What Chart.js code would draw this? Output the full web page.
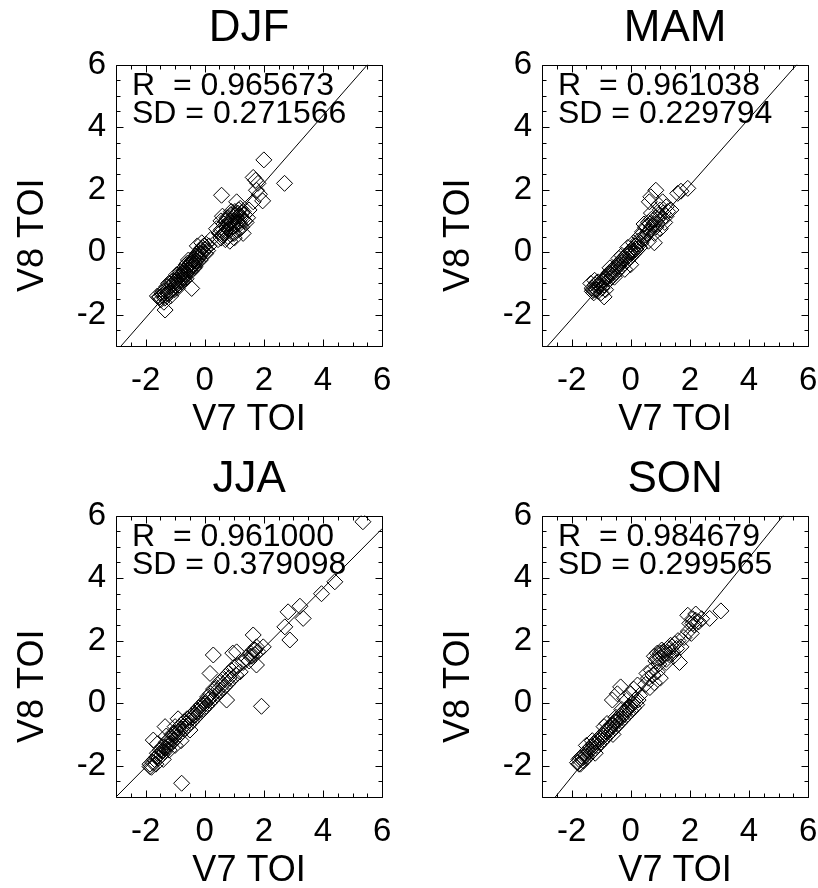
<html>
<head>
<script src="https://cdn.jsdelivr.net/npm/chart.js@4.4.0/dist/chart.umd.min.js"></script>
<style>
    body { margin: 0; background: #fff; overflow: hidden; }
    canvas { position: absolute; }
</style>
</head>
<body>

<canvas id="djfChart" width="406" height="440" style="left:0px;top:0px"></canvas>
<canvas id="mamChart" width="406" height="440" style="left:426px;top:0px"></canvas>
<canvas id="jjaChart" width="406" height="440" style="left:0px;top:451px"></canvas>
<canvas id="sonChart" width="406" height="440" style="left:426px;top:451px"></canvas>

<script>
    // tick labels shared by both axes of every panel
    const tickValues = [-2, 0, 2, 4, 6];

    const seasons = ['DJF', 'MAM', 'JJA', 'SON'];
    const rValues = ['0.965673', '0.961038', '0.961000', '0.984679'];
    const sdValues = ['0.271566', '0.229794', '0.379098', '0.299565'];

    // fitted line end points [V7, V8]
    const djfLine = [[-2.83, -3], [5.51, 6]];
    const mamLine = [[-2.81, -3], [5.62, 6]];
    const jjaLine = [[-3, -3], [6, 5.58]];
    const sonLine = [[-2.55, -3], [5.16, 6]];

    // [V7 TOI, V8 TOI]
    const djfPoints = [
        [-1.55,-1.45],[-1.48,-1.52],[-1.42,-1.38],[-1.35,-1.47],[-1.3,-1.25],[-1.25,-1.32],[-1.2,-1.1],[-1.15,-1.22],
        [-1.1,-1.05],[-1.05,-1.15],[-1.0,-0.95],[-0.98,-1.08],[-0.95,-0.88],[-0.9,-1.0],[-0.88,-0.8],[-0.85,-0.92],
        [-0.8,-0.75],[-0.78,-0.95],[-0.75,-0.7],[-0.72,-0.85],[-0.7,-0.6],[-0.68,-0.78],[-0.65,-0.55],[-0.62,-0.7],
        [-0.6,-0.5],[-0.58,-0.62],[-0.55,-0.45],[-0.52,-0.58],[-0.5,-0.38],[-0.48,-0.52],[-0.45,-0.3],[-0.42,-0.45],
        [-0.4,-0.25],[-0.38,-0.4],[-0.35,-0.2],[-0.32,-0.35],[-0.3,-0.12],[-0.28,-0.28],[-0.25,-0.05],[-0.22,-0.2],
        [-0.2,0.0],[-0.18,-0.15],[-0.15,0.05],[-0.1,-0.05],[-0.08,0.15],[-0.05,0.0],[0.0,0.1],[0.05,0.25],
        [0.1,0.05],[0.15,0.2],[-1.6,-1.4],[-1.45,-1.3],[-1.12,-0.95],[-0.82,-0.62],[-0.58,-0.35],[-0.95,-0.72],
        [-1.22,-1.0],[-0.7,-0.9],[-0.35,-0.5],[-0.1,0.3],[-0.44,-1.16],[-1.34,-1.85],[-1.51,-1.43],[-1.38,-1.6],
        [-1.28,-1.1],[-0.92,-1.15],[-0.62,-0.4],[-0.15,-0.25],[0.2,0.4],[-0.25,0.2],
        [-1.4,-1.25],[-1.33,-1.35],[-1.18,-1.3],[-1.08,-0.92],[-1.02,-1.2],[-0.93,-0.95],[-0.87,-1.05],[-0.77,-0.8],
        [-0.73,-0.65],[-0.66,-0.68],[-0.63,-0.85],[-0.57,-0.55],[-0.53,-0.4],[-0.47,-0.62],[-0.43,-0.35],[-0.37,-0.3],
        [-0.33,-0.45],[-0.27,-0.15],[-0.23,-0.3],[-0.17,-0.05],[-0.12,0.1],[-0.03,0.2],[0.03,-0.05],[-0.55,-0.25],
        [-0.85,-0.7],[-1.15,-1.4],
        [0.45,0.4],[0.5,0.6],[0.55,0.45],[0.6,0.75],[0.62,0.55],[0.65,0.9],[0.7,0.65],[0.72,1.0],
        [0.75,0.8],[0.78,0.5],[0.8,1.1],[0.82,0.9],[0.85,0.7],[0.88,1.2],[0.9,1.0],[0.92,0.8],
        [0.95,0.6],[0.98,1.15],[1.0,0.95],[1.02,1.3],[1.05,0.85],[1.08,1.1],[1.1,0.7],[1.12,1.25],
        [1.15,1.0],[1.18,0.9],[1.2,1.4],[1.22,1.15],[1.25,0.8],[1.28,1.05],[1.3,1.3],[1.35,1.2],
        [1.4,0.95],[1.45,1.1],[0.7,0.4],[0.85,0.35],[1.0,0.45],[0.55,1.0],[0.6,1.15],[1.3,0.6],
        [0.4,0.75],[1.5,1.35],
        [0.65,0.6],[0.75,1.1],[0.8,0.75],[0.9,1.3],[0.95,0.9],[1.05,1.2],[1.1,0.95],[1.15,1.35],
        [1.2,0.75],[1.25,1.25],[1.35,1.0],[1.0,0.6],[0.7,0.85],[0.85,1.0],[1.15,1.15],[0.55,0.7],
        [1.08,1.61],[0.57,1.82],[1.64,1.61],[1.96,1.64],[1.75,1.98],[1.64,2.39],[1.72,2.3],[1.8,2.2],
        [1.85,1.85],[2.0,2.95],[2.7,2.2]
    ];

    const mamPoints = [
        [-1.3,-1.15],[-1.25,-1.3],[-1.2,-1.05],[-1.15,-1.2],[-1.1,-0.95],[-1.05,-1.1],[-1.0,-1.3],[-0.95,-0.9],
        [-0.9,-1.05],[-0.85,-0.8],[-0.8,-0.95],[-0.75,-0.7],[-0.7,-0.85],[-0.65,-0.6],[-0.6,-0.75],[-0.55,-0.5],
        [-0.5,-0.65],[-0.45,-0.4],[-0.4,-0.55],[-0.35,-0.3],[-0.3,-0.45],[-0.25,-0.2],[-0.2,-0.35],[-0.15,-0.1],
        [-0.1,-0.25],[-0.05,0.0],[0.0,-0.15],[0.05,0.1],[0.1,-0.05],[0.15,0.2],[0.2,0.05],[-0.4,-0.2],
        [-0.2,-0.55],[0.0,-0.4],[0.25,0.35],[0.3,0.15],[-1.35,-1.0],[-0.9,-1.43],[-1.22,-0.9],[-1.1,-1.25],
        [-0.85,-1.2],[-0.7,-0.5],[-0.55,-0.8],[-0.3,-0.1],[-0.1,0.15],[0.1,0.3],[-1.28,-1.2],[-1.15,-0.98],
        [-1.3,-1.25],[-1.2,-1.2],[-1.12,-1.08],[-1.02,-0.98],[-0.97,-1.15],[-0.92,-0.92],[-0.82,-0.85],[-0.78,-0.78],
        [-0.72,-0.65],[-0.62,-0.68],[-0.58,-0.6],[-0.48,-0.5],[-0.42,-0.45],[-0.38,-0.35],[-0.28,-0.3],[-0.22,-0.25],
        [-0.12,-0.15],[-0.08,-0.05],[0.02,0.0],[0.08,0.05],[0.18,0.1],[0.22,0.25],
        [0.3,0.5],[0.35,0.3],[0.4,0.65],[0.45,0.45],[0.5,0.8],[0.55,0.6],[0.6,0.95],[0.65,0.7],
        [0.7,1.05],[0.75,0.85],[0.8,0.6],[0.85,1.1],[0.9,0.9],[0.95,1.2],[1.0,0.75],[1.05,1.05],
        [1.1,1.25],[1.15,0.95],[1.2,1.15],[1.25,1.3],[0.6,0.35],[0.8,0.3],[0.45,0.9],[0.7,1.25],
        [1.0,1.35],[0.4,0.4],[0.5,0.55],[0.6,0.65],[0.7,0.8],[0.8,0.9],[0.9,1.05],[1.0,1.0],
        [0.65,0.9],[0.85,0.8],
        [0.68,1.77],[0.85,1.98],[1.93,2.04],[1.59,1.88],[1.08,1.61],[1.36,1.35],[0.63,1.61],[1.7,1.95],
        [0.95,1.5],[1.2,1.45]
    ];

    const jjaPoints = [
        [-1.85,-1.95],[-1.8,-2.05],[-1.7,-1.8],[-1.65,-1.95],[-1.6,-1.6],[-1.55,-1.75],[-1.5,-1.5],[-1.45,-1.65],
        [-1.4,-1.4],[-1.35,-1.55],[-1.3,-1.25],[-1.25,-1.4],[-1.2,-1.15],[-1.15,-1.3],[-1.1,-1.0],[-1.05,-1.2],
        [-1.0,-0.95],[-0.95,-1.1],[-0.9,-0.8],[-0.85,-1.0],[-0.8,-0.7],[-0.75,-0.9],[-0.7,-0.6],[-0.65,-0.8],
        [-0.6,-0.5],[-0.55,-0.7],[-0.5,-0.45],[-0.45,-0.6],[-0.4,-0.35],[-0.35,-0.5],[-0.3,-0.25],[-0.25,-0.4],
        [-0.2,-0.15],[-0.15,-0.3],[-0.1,-0.05],[-0.05,-0.2],[0.0,0.05],[0.05,-0.1],[0.1,0.2],[0.15,0.0],
        [0.2,0.3],[0.25,0.1],[0.3,0.45],[0.35,0.2],[0.4,0.5],[0.45,0.3],[0.5,0.65],[0.55,0.4],
        [0.6,0.75],[0.65,0.5],[0.7,0.85],[0.75,0.6],[0.8,0.95],[0.85,0.7],[0.9,1.05],[0.95,0.8],
        [1.0,1.15],[1.05,0.9],[1.1,1.2],[1.2,1.0],[1.3,1.3],[1.4,1.45],[1.5,1.35],[1.55,1.6],
        [1.6,1.5],[1.65,1.7],[1.7,1.55],[1.75,1.8],[1.8,1.65],[-1.4,-1.8],[-1.2,-1.5],[-1.0,-1.35],
        [-0.8,-1.2],[-1.6,-1.3],[-0.9,-0.5],[-1.74,-1.18],[-1.34,-0.75],[-0.5,-0.86],[0.74,0.1],[0.18,0.95],
        [0.29,1.54],[1.08,1.64],[0.95,1.6],
        [-1.75,-1.9],[-1.62,-1.72],[-1.52,-1.62],[-1.42,-1.52],[-1.32,-1.42],[-1.22,-1.3],[-1.12,-1.15],[-1.02,-1.05],
        [-0.92,-0.95],[-0.82,-0.85],[-0.72,-0.75],[-0.62,-0.65],[-0.52,-0.55],[-0.42,-0.45],[-0.32,-0.38],[-0.22,-0.25],
        [-0.12,-0.15],[0.02,-0.02],[0.12,0.1],[0.22,0.2],[0.42,0.4],[0.62,0.6],[0.82,0.8],[1.55,1.5],
        [1.7,1.7],[-1.3,-1.05],[-1.0,-0.75],
        [1.75,1.22],[1.98,1.8],[1.64,2.18],[2.88,2.02],[2.71,2.44],[3.33,2.71],[2.82,2.92],[3.22,3.1],
        [3.95,3.5],[4.4,3.88],[5.35,5.8],[1.92,-0.1],[-0.78,-2.56],[-1.85,-2.03]
    ];

    const sonPoints = [
        [-1.8,-1.9],[-1.75,-1.8],[-1.7,-1.95],[-1.65,-1.7],[-1.6,-1.85],[-1.55,-1.6],[-1.5,-1.75],[-1.45,-1.5],
        [-1.4,-1.65],[-1.35,-1.4],[-1.3,-1.55],[-1.25,-1.3],[-1.2,-1.45],[-1.15,-1.2],[-1.1,-1.35],[-1.05,-1.1],
        [-1.0,-1.25],[-0.95,-1.0],[-0.9,-1.15],[-0.85,-0.9],[-0.8,-1.05],[-0.75,-0.8],[-0.7,-0.95],[-0.65,-0.7],
        [-0.6,-0.85],[-0.55,-0.6],[-0.5,-0.75],[-0.45,-0.5],[-0.4,-0.65],[-0.35,-0.4],[-0.3,-0.55],[-0.25,-0.3],
        [-0.2,-0.45],[-0.15,-0.2],[-0.1,-0.35],[-0.05,-0.1],[0.0,-0.25],[0.05,0.0],[0.1,-0.15],[0.15,0.1],
        [0.2,-0.05],[0.25,0.1],[-1.5,-1.35],[-1.2,-1.6],[-0.9,-0.75],[-0.6,-1.0],[-0.3,-0.2],[-1.7,-1.75],
        [-1.3,-1.2],[-0.8,-0.65],[-0.5,-0.45],
        [-1.75,-1.95],[-1.62,-1.75],[-1.52,-1.68],[-1.42,-1.55],[-1.32,-1.45],[-1.22,-1.35],[-1.12,-1.25],[-1.02,-1.15],
        [-0.92,-1.05],[-0.82,-0.92],[-0.72,-0.85],[-0.62,-0.72],[-0.52,-0.6],[-0.42,-0.55],[-0.32,-0.45],[-0.22,-0.35],
        [-0.12,-0.2],[-0.02,-0.12],
        [-0.34,0.52],[-0.62,0.1],[0.23,0.58],[-0.45,0.3],[0.0,0.3],[0.3,0.25],[-0.2,0.15],[0.1,0.45],
        [0.5,0.6],[0.6,0.8],[0.65,0.5],[0.75,0.9],[0.8,0.65],[0.9,1.0],[1.0,0.8],[0.55,0.95],
        [0.7,1.05],
        [0.8,1.5],[0.85,1.35],[0.9,1.6],[1.0,1.45],[1.05,1.7],[1.1,1.5],[1.15,1.6],[1.2,1.4],
        [1.25,1.75],[1.3,1.55],[1.35,1.85],[1.4,1.65],[1.5,1.9],[1.55,1.75],[1.6,2.0],[1.65,1.3],
        [1.7,1.8],[1.8,2.1],[0.95,1.25],[1.45,1.5],[1.0,1.6],[1.2,1.3],[1.1,1.65],[1.25,1.6],
        [1.4,1.8],[0.9,1.45],
        [1.95,2.3],[2.0,2.55],[2.05,2.23],[2.1,2.7],[2.15,2.5],[2.2,2.85],[2.3,2.6],[1.93,2.81],
        [2.67,2.71],[3.05,2.95],[2.4,2.7],[2.1,2.55],[2.2,2.65]
    ];

    Chart.defaults.font.family = "'Liberation Sans', Arial, Helvetica, sans-serif";
    Chart.defaults.color = '#000';

    // IDL style box: frame on all sides with inward ticks, plus the R / SD text
    const boxTicks = {
        id: 'boxTicks',
        afterDatasetsDraw(chart, args, opts) {
            const ctx = chart.ctx;
            const a = chart.chartArea;
            const xs = chart.scales.x;
            const ys = chart.scales.y;
            const l = Math.round(a.left) + 0.5, r = Math.round(a.right) + 0.5;
            const t = Math.round(a.top) + 0.5, b = Math.round(a.bottom) + 0.5;
            ctx.save();
            ctx.strokeStyle = '#000';
            ctx.lineWidth = 1;
            ctx.beginPath();
            ctx.rect(l, t, r - l, b - t);
            for (let v = xs.min; v <= xs.max + 1e-9; v += 0.5) {
                const len = (Math.abs(v % 2) < 1e-9) ? 7 : 4;
                const px = Math.round(xs.getPixelForValue(v)) + 0.5;
                ctx.moveTo(px, b); ctx.lineTo(px, b - len);
                ctx.moveTo(px, t); ctx.lineTo(px, t + len);
            }
            for (let v = ys.min; v <= ys.max + 1e-9; v += 0.5) {
                const len = (Math.abs(v % 2) < 1e-9) ? 7 : 4;
                const py = Math.round(ys.getPixelForValue(v)) + 0.5;
                ctx.moveTo(l, py); ctx.lineTo(l + len, py);
                ctx.moveTo(r, py); ctx.lineTo(r - len, py);
            }
            ctx.stroke();

            ctx.fillStyle = '#000';
            ctx.font = "32px 'Liberation Sans', Arial, sans-serif";
            ctx.textBaseline = 'alphabetic';
            ctx.textAlign = 'left';
            ctx.fillText('R  = ' + opts.r, a.left + 16, a.top + 30.5);
            ctx.fillText('SD = ' + opts.sd, a.left + 16, a.top + 58);
            ctx.restore();
        }
    };

    function makePanel(id, idx, points, line) {
        new Chart(document.getElementById(id), {
            type: 'scatter',
            data: {
                datasets: [{
                    data: points.map(p => ({x: p[0], y: p[1]})),
                    pointStyle: 'rectRot',
                    pointRadius: 8,
                    pointHoverRadius: 8,
                    borderWidth: 1,
                    borderColor: '#000',
                    backgroundColor: 'rgba(0,0,0,0)'
                }, {
                    type: 'line',
                    data: line.map(p => ({x: p[0], y: p[1]})),
                    borderColor: '#000',
                    borderWidth: 1,
                    pointRadius: 0,
                    fill: false
                }]
            },
            options: {
                responsive: false,
                animation: false,
                events: [],
                plugins: {
                    legend: { display: false },
                    tooltip: { enabled: false },
                    title: {
                        display: true,
                        text: seasons[idx],
                        fullSize: false,
                        color: '#000',
                        font: { size: 44, weight: 'normal', lineHeight: 1.2 },
                        padding: { top: 2.6, bottom: 9.1 }
                    },
                    boxTicks: { r: rValues[idx], sd: sdValues[idx] }
                },
                scales: {
                    x: {
                        type: 'linear',
                        min: -3,
                        max: 6,
                        grid: { display: false, drawTicks: false },
                        border: { display: false },
                        afterBuildTicks: s => { s.ticks = tickValues.map(v => ({value: v})); },
                        afterFit: s => { s.height = 94; },
                        ticks: { font: { size: 33 }, color: '#000', padding: 14.7, maxRotation: 0, autoSkip: false },
                        title: { display: true, text: 'V7 TOI', color: '#000', font: { size: 36, lineHeight: 1 }, padding: { top: 0, bottom: 2 } }
                    },
                    y: {
                        type: 'linear',
                        min: -3,
                        max: 6,
                        grid: { display: false, drawTicks: false },
                        border: { display: false },
                        afterBuildTicks: s => { s.ticks = tickValues.map(v => ({value: v})); },
                        afterFit: s => { s.width = 116; },
                        ticks: { font: { size: 33 }, color: '#000', padding: 10, autoSkip: false },
                        title: { display: true, text: 'V8 TOI      ', color: '#000', font: { size: 36, lineHeight: 1 }, padding: { top: 15, bottom: 0 } }
                    }
                }
            },
            plugins: [boxTicks]
        });
    }

    makePanel('djfChart', 0, djfPoints, djfLine);
    makePanel('mamChart', 1, mamPoints, mamLine);
    makePanel('jjaChart', 2, jjaPoints, jjaLine);
    makePanel('sonChart', 3, sonPoints, sonLine);
</script>

</body>
</html>
